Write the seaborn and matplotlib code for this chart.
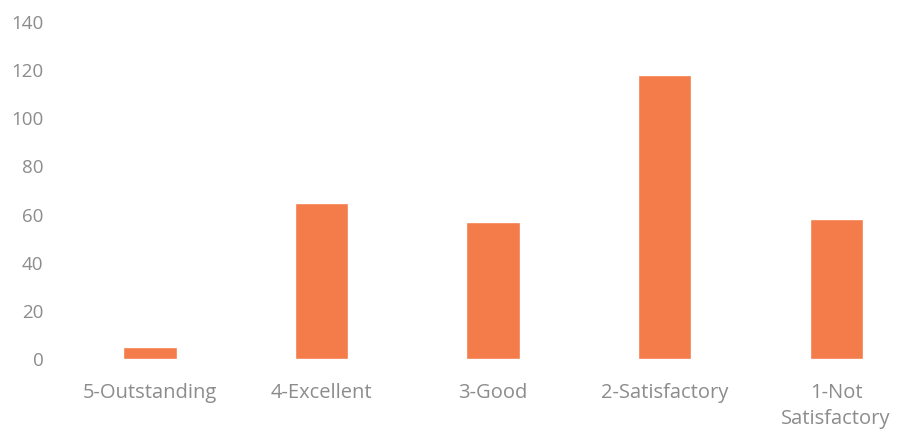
import matplotlib
matplotlib.use("Agg")
import matplotlib.pyplot as plt
import seaborn as sns
import pandas as pd

# Chart data
categories = ["5-Outstanding", "4-Excellent", "3-Good", "2-Satisfactory", "1-Not\nSatisfactory"]
counts = [5, 65, 57, 118, 58]
y_ticks = [0, 20, 40, 60, 80, 100, 120, 140]

df = pd.DataFrame({"rating": categories, "count": counts})

sns.set_theme(style="white")
plt.rcParams["font.family"] = ["Open Sans", "DejaVu Sans"]

fig = plt.figure(figsize=(8.97, 4.36), dpi=100)
ax = fig.add_axes([60 / 897, 77 / 436, 837 / 897, 337 / 436])

sns.barplot(data=df, x="rating", y="count", color="#f47c4a", saturation=1,
            width=0.31, ax=ax)

ax.set_ylim(0, 140)
ax.set_xlim(-0.525, 4.355)
ax.set_yticks(y_ticks)
ax.set_xlabel("")
ax.set_ylabel("")
ax.tick_params(axis="both", colors="#8c8c8c", length=0)
ax.tick_params(axis="y", pad=12, labelsize=13.5)
ax.tick_params(axis="x", pad=17, labelsize=14.5)
for lbl in ax.get_xticklabels():
    lbl.set_linespacing(1.45)
for s in ax.spines.values():
    s.set_visible(False)

fig.savefig("out.png", dpi=100)
